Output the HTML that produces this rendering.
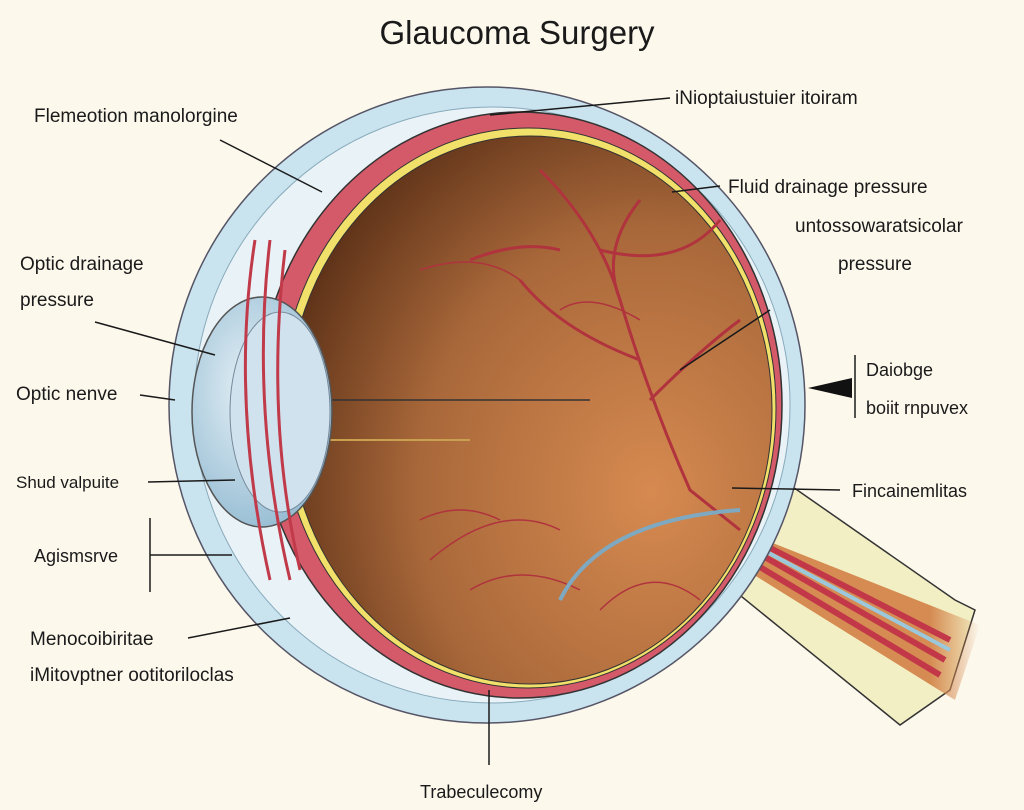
<!DOCTYPE html>
<html><head><meta charset="utf-8"><style>
html,body{margin:0;padding:0;background:#fcf8ec;}
svg{display:block;}
text{font-family:"Liberation Sans",sans-serif;fill:#1a1a1a;}
</style></head><body>
<svg width="1024" height="810" viewBox="0 0 1024 810" xmlns="http://www.w3.org/2000/svg">
<defs>
<radialGradient id="br" cx="0.75" cy="0.65" r="0.8">
<stop offset="0" stop-color="#d68a50"/><stop offset="0.6" stop-color="#a9683a"/><stop offset="1" stop-color="#5e3218"/>
</radialGradient>
<radialGradient id="ln" cx="0.4" cy="0.4" r="0.7">
<stop offset="0" stop-color="#e4f0f6"/><stop offset="1" stop-color="#8fb8d0"/>
</radialGradient>
<linearGradient id="nv" x1="0" y1="0" x2="1" y2="0">
<stop offset="0.8" stop-color="#d58b52"/><stop offset="1" stop-color="#d58b52" stop-opacity="0"/>
</linearGradient>
</defs>
<rect width="1024" height="810" fill="#fcf8ec"/>
<!-- optic nerve -->
<path d="M735 520 L790 485 L955 600 L975 610 L950 690 L900 725 L715 575 Z" fill="#f3efc4" stroke="#333" stroke-width="1.5"/>
<path d="M740 530 L980 625 L955 700 L730 560 Z" fill="url(#nv)"/>
<path d="M735 530 L950 640 M735 540 L945 660 M740 555 L940 675" stroke="#c23848" stroke-width="6" fill="none"/>
<path d="M735 535 L950 650" stroke="#9cc8dc" stroke-width="4" fill="none"/>
<!-- sclera -->
<circle cx="487" cy="405" r="318" fill="#c9e3ef" stroke="#556" stroke-width="1.5"/>
<circle cx="492" cy="405" r="298" fill="#e9f3f7" stroke="#8ab" stroke-width="1"/>
<!-- pink choroid -->
<ellipse cx="520" cy="405" rx="262" ry="293" fill="#d45a6a" stroke="#333" stroke-width="1.5"/>
<ellipse cx="528" cy="408" rx="248" ry="280" fill="#f1e06a" stroke="#333" stroke-width="1"/>
<ellipse cx="530" cy="410" rx="242" ry="274" fill="url(#br)" stroke="#333" stroke-width="1"/>
<!-- vessels -->
<g stroke="#b0333e" stroke-width="3" fill="none">
<path d="M540 170 Q600 230 620 300 Q650 400 690 490 L740 530"/>
<path d="M620 300 Q600 250 640 200"/>
<path d="M650 400 Q700 350 740 320"/>
<path d="M640 360 Q560 330 520 280"/>
<path d="M470 260 Q520 240 560 250"/>
<path d="M600 250 Q680 270 720 220"/>
</g>
<g stroke="#b0333e" stroke-width="1.5" fill="none">
<path d="M420 270 Q480 250 520 280"/><path d="M560 310 Q590 290 640 320"/>
<path d="M430 560 Q500 500 560 530"/><path d="M470 590 Q520 560 580 590"/>
<path d="M600 610 Q650 560 700 600"/><path d="M420 520 Q460 500 500 520"/>
</g>
<path d="M560 600 Q600 520 740 510" stroke="#7fa9c0" stroke-width="4" fill="none"/>
<!-- inner lines -->
<line x1="330" y1="400" x2="590" y2="400" stroke="#333" stroke-width="1.5"/>
<line x1="330" y1="440" x2="470" y2="440" stroke="#c9a050" stroke-width="2"/>
<!-- lens -->
<ellipse cx="262" cy="412" rx="70" ry="115" fill="url(#ln)" stroke="#555" stroke-width="1.5"/>
<ellipse cx="280" cy="412" rx="50" ry="100" fill="#cfe2ee" stroke="#789" stroke-width="1"/>
<g stroke="#c03a4a" stroke-width="3" fill="none">
<path d="M255 240 Q230 400 270 580"/><path d="M270 240 Q250 410 290 580"/><path d="M285 250 Q265 420 300 570"/>
</g>
<!-- leader lines -->
<g stroke="#1a1a1a" stroke-width="1.5" fill="none">
<line x1="670" y1="98" x2="490" y2="115"/>
<line x1="220" y1="140" x2="322" y2="192"/>
<line x1="720" y1="186" x2="672" y2="192"/>
<line x1="770" y1="310" x2="680" y2="370"/>
<line x1="95" y1="322" x2="215" y2="355"/>
<line x1="140" y1="395" x2="175" y2="400"/>
<line x1="148" y1="482" x2="235" y2="480"/>
<line x1="150" y1="555" x2="232" y2="555"/>
<line x1="150" y1="518" x2="150" y2="592"/>
<line x1="188" y1="638" x2="290" y2="618"/>
<line x1="489" y1="690" x2="489" y2="765"/>
<line x1="855" y1="355" x2="855" y2="418"/>
<line x1="840" y1="490" x2="732" y2="488"/>
</g>
<path d="M808 388 L852 378 L852 398 Z" fill="#111"/>
<text x="517" y="44" font-size="33" text-anchor="middle">Glaucoma Surgery</text>
<text x="675" y="104" font-size="19">iNioptaiustuier itoiram</text>
<text x="34" y="122" font-size="19">Flemeotion manolorgine</text>
<text x="728" y="193" font-size="19">Fluid  drainage pressure</text>
<text x="795" y="232" font-size="19">untossowaratsicolar</text>
<text x="838" y="270" font-size="19">pressure</text>
<text x="20" y="270" font-size="19">Optic drainage</text>
<text x="20" y="306" font-size="19">pressure</text>
<text x="16" y="400" font-size="19">Optic nenve</text>
<text x="866" y="376" font-size="18">Daiobge</text>
<text x="866" y="414" font-size="18">boiit rnpuvex</text>
<text x="16" y="488" font-size="17">Shud valpuite</text>
<text x="852" y="497" font-size="18">Fincainemlitas</text>
<text x="34" y="562" font-size="18">Agismsrve</text>
<text x="30" y="645" font-size="19">Menocoibiritae</text>
<text x="30" y="681" font-size="19">iMitovptner ootitoriloclas</text>
<text x="420" y="798" font-size="18">Trabeculecomy</text>
</svg>
</body></html>
